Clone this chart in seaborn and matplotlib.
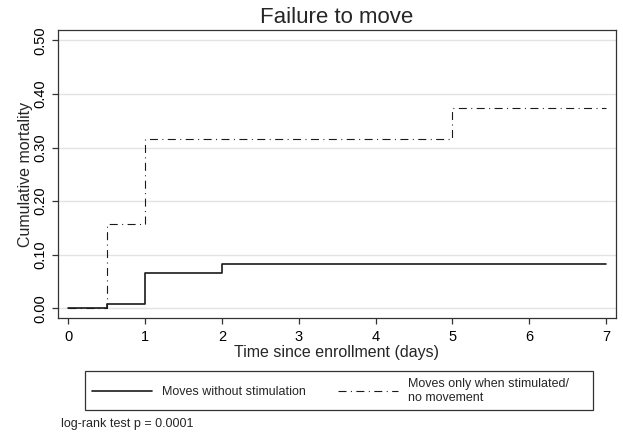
import numpy as np
import pandas as pd
import matplotlib
matplotlib.use("Agg")
import matplotlib.pyplot as plt
from matplotlib.patches import Rectangle
import seaborn as sns

# Kaplan-Meier style cumulative mortality (step functions)
days_moves = [0, 0.5, 1, 2, 7]
mort_moves = [0.0, 0.008, 0.065, 0.082, 0.082]
days_stim = [0, 0.5, 1, 5, 7]
mort_stim = [0.0, 0.158, 0.316, 0.373, 0.373]

label_moves = "Moves without stimulation"
label_stim = "Moves only when stimulated/\nno movement"
title = "Failure to move"
xlabel = "Time since enrollment (days)"
ylabel = "Cumulative mortality"
note = "log-rank test p = 0.0001"
x_ticks = [0, 1, 2, 3, 4, 5, 6, 7]
y_ticks = [0.0, 0.1, 0.2, 0.3, 0.4, 0.5]

sns.set_theme(style="white")
plt.rcParams["font.family"] = ["Liberation Sans", "DejaVu Sans"]

W, H = 623, 438
fig = plt.figure(figsize=(W / 100, H / 100), dpi=100)
ax = fig.add_axes([58 / W, 1 - 318 / H, (616 - 58) / W, (318 - 30) / H])

df_moves = pd.DataFrame({"days": days_moves, "mortality": mort_moves})
df_stim = pd.DataFrame({"days": days_stim, "mortality": mort_stim})

ink = "#1a1a1a"
edge = "#333333"
sns.lineplot(data=df_moves, x="days", y="mortality", ax=ax, estimator=None,
             drawstyle="steps-post", color=ink, linewidth=1.2,
             label=label_moves, zorder=3)
sns.lineplot(data=df_stim, x="days", y="mortality", ax=ax, estimator=None,
             drawstyle="steps-post", color=ink, linewidth=0.8,
             linestyle=(0, (7.2, 4.0, 0.9, 4.0)),
             label=label_stim, zorder=3)

ax.set_xlim(-0.134, 7.130)
ax.set_ylim(-0.0181, 0.5194)
ax.set_xticks(x_ticks)
ax.set_xticklabels([str(t) for t in x_ticks], fontsize=10.5)
ax.set_yticks(y_ticks)
ax.set_yticklabels([f"{t:.2f}" for t in y_ticks], fontsize=10.5,
                   rotation=90, va="center")

ax.yaxis.grid(True, color="#e3e3e3", linewidth=1.0, zorder=0)
ax.xaxis.grid(False)
for s in ax.spines.values():
    s.set_color(edge)
    s.set_linewidth(0.9)
ax.tick_params(axis="x", which="major", direction="out", length=4,
               width=0.9, color=edge, labelcolor="black", pad=4.5,
               bottom=True)
ax.tick_params(axis="y", which="major", direction="out", length=4,
               width=0.9, color=edge, labelcolor="black", pad=3.5,
               left=True)

ax.set_xlabel(xlabel, fontsize=11.5, labelpad=1)
ax.set_ylabel(ylabel, fontsize=11.5, labelpad=0.5)
ax.set_title(title, fontsize=16, pad=5)

# Legend entries below the plot, inside a plain rectangular box
leg = ax.legend(loc="upper left", bbox_to_anchor=(85 / W, 1 - 371 / H),
                bbox_transform=fig.transFigure, ncol=2, fontsize=9,
                frameon=False, handlelength=4.8, handletextpad=0.8,
                columnspacing=2.6, borderpad=0.55, borderaxespad=0)
fig.add_artist(Rectangle((85 / W, 1 - 410 / H), (593 - 85) / W, 39 / H,
                         transform=fig.transFigure, fill=False,
                         edgecolor=edge, linewidth=0.9))

fig.text(61 / W, 1 - 424 / H, note, fontsize=9, ha="left", va="center")

fig.savefig("out.png", dpi=100)
